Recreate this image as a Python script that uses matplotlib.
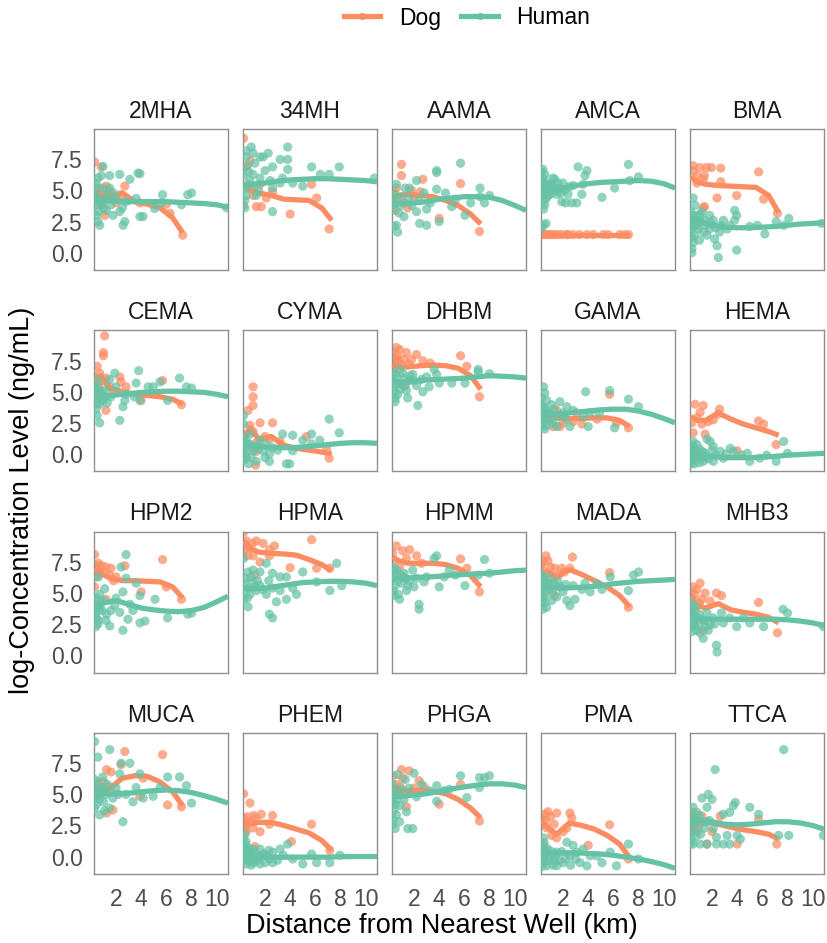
import matplotlib
matplotlib.use("Agg")
import matplotlib.pyplot as plt
from matplotlib.lines import Line2D
from matplotlib.ticker import FormatStrFormatter

plt.rcParams['font.family'] = ['Liberation Sans', 'DejaVu Sans']

compounds = ["2MHA", "34MH", "AAMA", "AMCA", "BMA",
             "CEMA", "CYMA", "DHBM", "GAMA", "HEMA",
             "HPM2", "HPMA", "HPMM", "MADA", "MHB3",
             "MUCA", "PHEM", "PHGA", "PMA", "TTCA"]

x_ticks = [2, 4, 6, 8, 10]
y_ticks = [0.0, 2.5, 5.0, 7.5]

# x positions (km) at which the smoothed curves were read
dog_curve_x = [0.3, 0.8, 1.5, 2.5, 3.5, 4.5, 5.5, 6.5, 7.3]
human_curve_x = [0.25, 1, 2, 3, 4, 5, 6, 7, 8, 9, 10, 10.9]

# ---------------- per-compound data (distance km, log concentration) ----------------
dog_2MHA = [(0.3,7.3),(0.83,6.9),(0.7,5.2),(1.23,5.35),(0.97,4.66),(1.5,4.9),(2.7,5.35),(2.4,4.66),(1.1,3.0),(2.0,4.0),(3.9,4.0),(6.3,3.16),(7.3,1.4),(6.0,3.9),(0.57,4.4),(1.8,4.5),(0.4,4.8),(0.5,4.2),(0.9,3.9),(1.3,4.6)]
hum_2MHA = [(0.97,6.94),(0.83,6.2),(1.5,6.2),(2.3,6.3),(3.75,6.4),(3.9,6.35),(3.1,5.9),(0.57,6.0),(0.44,5.2),(0.7,3.85),(0.57,2.5),(0.7,2.2),(2.7,2.5),(2.56,2.2),(3.9,2.9),(4.15,2.9),(1.76,3.0),(2.3,3.3),(1.23,3.4),(2.0,4.36),(2.8,4.1),(3.6,4.36),(5.07,3.55),(5.7,4.66),(5.6,4.0),(7.2,3.85),(7.7,4.66),(8.0,4.8),(10.8,3.6),(1.23,4.66),(1.6,3.85),(0.44,3.0),(0.97,5.2),(0.3,4.4),(1.5,5.2),(0.3,3.8),(0.5,4.5),(0.8,4.0),(1.0,3.6),(1.3,4.3),(0.4,5.6),(1.8,4.8),(0.6,3.3),(2.5,3.6)]
dogfit_2MHA = [5.0, 4.6, 4.5, 4.8, 4.1, 3.9, 3.6, 2.8, 1.6]
humfit_2MHA = [4.3, 4.2, 4.15, 4.1, 4.1, 4.1, 4.1, 4.05, 4.0, 3.95, 3.85, 3.65]

dog_34MH = [(0.3,9.2),(0.8,7.4),(0.65,5.5),(1.05,5.2),(1.6,5.5),(1.3,3.7),(1.7,3.7),(2.1,4.4),(2.6,4.9),(4.0,3.1),(5.7,5.5),(6.1,4.4),(7.1,1.9),(0.3,3.8),(1.05,4.6),(0.5,6.9)]
hum_34MH = [(0.5,8.2),(0.9,8.5),(0.5,7.7),(1.05,8.0),(1.6,7.7),(1.85,7.7),(2.25,8.0),(3.2,7.5),(3.8,7.5),(3.8,8.5),(3.8,6.7),(2.6,6.9),(5.7,6.9),(6.4,6.3),(7.1,6.3),(7.9,6.9),(5.0,5.35),(2.6,3.3),(0.4,3.6),(0.4,5.2),(0.8,5.8),(1.6,6.0),(2.4,5.8),(3.2,5.6),(4.2,5.6),(3.4,6.0),(1.3,4.6),(2.6,5.2),(10.7,6.0),(0.5,4.6),(1.05,6.3),(0.3,6.2),(0.6,7.0),(0.7,6.5),(1.2,7.2),(0.4,4.2),(1.5,5.0),(2.0,6.6),(0.9,5.4)]
dogfit_34MH = [5.4, 5.0, 4.8, 4.6, 4.3, 4.25, 4.2, 3.6, 2.6]
humfit_34MH = [5.4, 5.5, 5.6, 5.75, 5.85, 5.9, 5.95, 5.95, 5.9, 5.85, 5.8, 5.7]

dog_AAMA = [(1.0,7.1),(1.0,6.2),(2.7,5.9),(0.6,5.2),(5.7,5.55),(4.0,2.75),(7.2,1.7),(0.4,4.8),(0.6,4.3),(1.2,4.0),(1.5,3.6),(2.0,4.5),(0.5,3.4),(1.8,5.0),(2.5,4.9)]
hum_AAMA = [(0.6,2.2),(0.7,1.65),(2.45,2.35),(3.0,2.2),(1.65,5.2),(2.2,5.8),(3.8,6.6),(3.3,4.0),(3.8,6.45),(3.8,5.1),(5.7,7.2),(7.25,5.2),(7.25,4.5),(7.6,4.0),(8.0,4.6),(6.05,3.0),(4.0,2.5),(5.0,3.7),(0.3,3.5),(0.5,4.0),(0.8,3.2),(1.0,4.5),(1.3,5.2),(0.4,2.1),(1.8,3.8),(2.4,4.2),(3.0,3.5),(0.6,5.5),(1.2,2.9),(2.8,4.8),(4.5,4.8),(5.3,4.3),(6.5,4.0),(0.3,4.4),(0.9,3.8),(1.6,4.4),(2.2,3.3),(0.5,4.7)]
dogfit_AAMA = [4.5, 4.6, 4.7, 4.6, 4.5, 4.2, 3.8, 3.1, 2.3]
humfit_AAMA = [3.9, 3.95, 4.0, 4.1, 4.3, 4.4, 4.5, 4.5, 4.45, 4.2, 3.8, 3.4]

dog_AMCA = [(0.3,1.45),(0.5,1.45),(0.7,1.45),(0.9,1.45),(1.1,1.45),(1.3,1.45),(1.6,1.45),(1.9,1.45),(2.3,1.45),(2.4,1.45),(2.8,1.45),(3.3,1.45),(3.9,1.45),(4.4,1.45),(5.2,1.45),(5.6,1.45),(6.5,1.45),(6.9,1.45),(7.2,1.45)]
hum_AMCA = [(0.4,6.7),(0.55,6.3),(0.4,5.2),(0.7,4.4),(0.55,3.85),(0.65,2.35),(0.45,2.2),(1.35,5.9),(1.75,5.2),(1.5,4.7),(2.2,4.0),(2.7,4.0),(3.1,4.0),(3.2,6.9),(3.9,6.6),(3.75,6.2),(3.6,5.5),(3.5,4.7),(2.4,4.7),(5.1,4.45),(6.1,5.2),(7.2,7.1),(7.3,5.8),(8.0,6.1),(1.9,4.1),(1.0,5.5),(1.1,5.0),(0.3,5.8),(0.3,4.6),(0.8,5.0),(1.2,6.0),(2.0,5.6),(2.8,5.4),(0.5,5.5),(0.3,5.2),(0.35,4.9),(0.4,6.0),(0.5,4.2),(0.6,5.0),(0.7,5.6),(0.8,4.6),(0.9,5.3),(1.0,4.7),(1.2,5.4),(1.4,5.0),(1.6,5.6),(1.8,4.8),(2.1,5.0),(2.5,5.3),(0.3,6.5),(0.45,3.5),(0.3,2.0)]
dogfit_AMCA = [1.45, 1.45, 1.45, 1.45, 1.45, 1.45, 1.45, 1.45, 1.45]
humfit_AMCA = [4.8, 5.0, 5.2, 5.4, 5.55, 5.65, 5.7, 5.75, 5.8, 5.75, 5.55, 5.2]

dog_BMA = [(0.5,7.0),(1.05,6.85),(1.57,6.85),(1.95,6.85),(2.7,6.8),(0.8,6.2),(1.4,6.2),(1.3,5.9),(0.8,5.6),(2.7,5.7),(5.7,6.5),(3.96,4.6),(2.4,4.4),(1.4,3.7),(1.3,3.6),(6.1,4.3),(7.2,3.16),(0.5,6.6)]
hum_BMA = [(0.4,1.9),(0.5,0.8),(0.4,0.3),(0.4,0.0),(0.8,2.2),(0.8,3.0),(0.65,3.8),(1.05,3.0),(1.4,2.6),(1.3,1.65),(1.8,1.9),(2.2,1.1),(2.4,0.55),(2.5,-0.4),(3.96,0.2),(2.9,2.6),(3.4,2.2),(3.8,3.4),(3.96,3.0),(3.8,2.6),(5.0,2.1),(5.6,2.2),(6.2,1.5),(7.1,2.5),(8.1,2.75),(7.7,2.2),(10.7,2.35),(2.1,2.6),(2.6,1.65),(1.6,1.4),(1.05,2.5),(0.5,4.4),(1.8,3.0),(0.3,2.6),(0.6,1.4),(0.3,3.3),(0.35,2.0),(0.5,3.0),(0.7,2.6),(0.9,1.9),(1.2,3.3),(1.5,2.2),(1.9,2.4),(2.3,2.0),(0.4,1.2),(0.6,2.2),(1.0,1.0),(2.7,2.2),(3.2,1.9)]
dogfit_BMA = [6.1, 5.7, 5.5, 5.4, 5.35, 5.3, 5.25, 4.6, 3.2]
humfit_BMA = [2.7, 2.5, 2.2, 2.05, 2.0, 2.0, 2.05, 2.1, 2.2, 2.3, 2.35, 2.4]

dog_CEMA = [(1.1,9.5),(1.0,8.15),(1.0,7.9),(0.5,7.05),(0.7,6.5),(1.2,6.1),(2.3,6.2),(2.4,5.8),(1.2,3.5),(2.8,5.4),(4.0,4.3),(5.7,5.9),(7.2,3.96),(0.45,5.7),(1.5,5.4),(0.7,4.9),(0.3,6.2),(0.6,5.5),(0.9,5.9),(1.8,5.0)]
hum_CEMA = [(3.8,6.7),(1.9,6.5),(0.45,5.3),(0.7,2.5),(0.5,3.1),(2.3,2.7),(2.55,3.8),(2.7,4.3),(3.6,5.7),(3.9,4.3),(4.55,5.4),(4.95,5.4),(6.1,4.3),(7.05,6.1),(7.6,5.4),(8.0,5.3),(5.5,5.8),(1.2,5.2),(1.6,4.6),(2.0,5.4),(0.97,4.3),(2.8,4.8),(3.45,4.6),(0.45,4.0),(1.5,6.0),(0.3,4.7),(0.6,5.9),(0.3,5.3),(0.5,4.5),(0.7,4.0),(0.9,5.0),(1.1,4.6),(0.4,3.6),(1.3,4.1),(0.6,5.2)]
dogfit_CEMA = [5.9, 6.3, 5.3, 5.0, 4.8, 4.7, 4.6, 4.4, 4.0]
humfit_CEMA = [4.5, 4.6, 4.75, 4.85, 4.95, 5.0, 5.05, 5.05, 5.0, 4.95, 4.8, 4.6]

dog_CYMA = [(1.05,5.4),(1.05,4.6),(1.05,3.9),(0.65,3.5),(1.6,2.5),(2.6,2.5),(1.05,1.8),(1.3,0.2),(1.25,-0.9),(3.2,1.0),(5.3,1.4),(7.1,-0.35),(6.9,0.45),(0.5,1.6),(2.35,1.2),(0.3,1.0),(0.6,0.8),(0.8,2.3),(1.4,1.0),(2.0,1.4)]
hum_CYMA = [(0.3,3.1),(0.3,2.4),(0.3,1.3),(0.4,0.5),(0.5,-0.3),(1.3,-0.6),(2.35,0.0),(2.35,-0.6),(3.7,-0.8),(3.96,-0.8),(3.4,1.6),(4.2,1.5),(5.0,1.1),(5.7,1.6),(5.7,0.8),(7.1,2.8),(7.9,1.7),(6.35,1.1),(1.6,1.1),(2.1,0.8),(0.8,0.8),(1.05,0.25),(2.6,0.5),(4.2,0.25),(0.8,1.6),(1.85,0.25),(0.4,-0.1),(0.3,0.7),(0.5,1.0),(0.6,0.3),(0.9,-0.3),(1.2,0.6),(1.5,0.4),(0.3,-0.5),(0.7,-0.8),(2.0,-0.3),(3.0,0.3)]
dogfit_CYMA = [1.2, 2.1, 1.2, 1.4, 0.7, 0.45, 0.3, 0.15, 0.0]
humfit_CYMA = [0.9, 0.7, 0.55, 0.5, 0.5, 0.55, 0.65, 0.75, 0.85, 0.9, 0.9, 0.85]

dog_DHBM = [(0.6,8.56),(0.85,8.4),(1.4,8.15),(0.5,7.7),(2.2,8.0),(2.7,7.5),(1.2,5.5),(0.75,7.5),(5.7,7.9),(6.2,7.05),(7.2,4.6),(0.3,8.2),(1.0,7.2),(1.8,7.6),(0.4,6.9),(3.3,7.3),(0.35,7.4),(0.7,7.9),(1.2,7.6),(1.6,7.2),(0.5,7.1)]
hum_DHBM = [(0.5,4.2),(2.3,3.9),(0.6,5.7),(1.4,5.1),(2.7,5.0),(3.0,6.2),(0.85,6.8),(1.9,6.4),(3.6,6.8),(7.1,6.8),(7.1,6.6),(8.0,6.45),(3.8,6.4),(5.0,5.7),(6.05,5.7),(4.0,5.7),(0.3,5.9),(0.5,6.4),(1.0,5.6),(1.2,6.1),(1.6,5.9),(2.2,5.5),(2.6,6.0),(0.4,5.0),(0.7,4.8),(1.5,4.5),(3.2,5.4),(0.3,6.5),(0.4,5.4),(0.6,6.1),(0.9,5.2),(1.3,5.5),(1.7,6.3),(2.0,5.9),(0.5,4.5),(1.1,6.5)]
dogfit_DHBM = [7.2, 7.0, 7.0, 7.1, 7.15, 7.1, 6.9, 6.3, 5.2]
humfit_DHBM = [5.8, 5.8, 5.85, 5.95, 6.0, 6.05, 6.1, 6.2, 6.3, 6.25, 6.2, 6.1]

dog_GAMA = [(5.7,4.8),(7.2,2.1),(6.25,2.5),(1.2,2.2),(1.75,2.2),(1.0,2.8),(0.55,3.3),(2.0,2.5),(2.8,2.6),(1.5,3.5),(3.1,3.3),(3.5,2.4),(4.7,2.8)]
hum_GAMA = [(0.45,5.4),(0.55,4.9),(0.7,4.3),(0.45,3.8),(0.55,2.8),(0.55,2.0),(1.1,3.96),(1.75,4.2),(2.3,3.8),(2.8,3.5),(3.8,5.0),(4.15,3.3),(5.7,5.1),(6.1,2.1),(7.2,4.4),(8.0,3.8),(4.0,2.2),(2.55,2.2),(1.5,2.2),(2.0,3.3),(3.6,3.0),(4.9,3.3),(0.85,3.3),(0.3,4.5),(0.3,3.2),(1.3,3.6),(0.3,3.8),(0.4,2.6),(0.6,3.6),(0.8,2.7),(1.0,3.2),(1.2,2.5),(1.6,3.0),(2.2,2.8),(0.3,2.2),(0.7,2.3)]
dogfit_GAMA = [3.3, 3.1, 2.9, 2.85, 2.85, 2.9, 2.9, 2.7, 2.2]
humfit_GAMA = [3.2, 3.2, 3.25, 3.35, 3.45, 3.55, 3.6, 3.6, 3.45, 3.2, 2.85, 2.5]

dog_HEMA = [(0.65,4.0),(1.3,3.9),(1.05,3.35),(0.8,2.9),(0.4,2.5),(1.2,2.4),(1.7,2.6),(1.45,1.6),(0.5,1.7),(2.6,3.6),(2.5,3.2),(5.7,2.65),(6.1,2.4),(7.1,0.75),(4.0,0.25),(2.1,2.75)]
hum_HEMA = [(0.5,1.0),(0.8,0.75),(1.6,1.2),(1.85,1.0),(2.1,0.6),(0.5,0.2),(0.8,-0.1),(1.3,-0.6),(2.1,-0.6),(2.9,-0.35),(3.7,0.2),(5.0,-0.6),(5.8,-0.35),(7.1,-0.6),(7.7,1.0),(8.0,0.05),(6.35,-0.1),(4.35,-0.1),(0.4,-0.6),(1.2,0.2),(2.65,0.2),(3.45,0.45),(4.8,0.05),(0.3,0.5),(1.0,0.4),(1.5,-0.2),(0.6,-0.3),(0.3,0.1),(0.35,-0.3),(0.45,0.7),(0.55,-0.1),(0.7,0.3),(0.9,0.0),(1.1,-0.3),(1.4,0.1),(1.7,-0.4),(2.3,-0.1),(0.3,-0.8),(0.6,-0.8),(1.0,-0.7),(0.4,0.3),(2.0,0.3),(3.1,0.0)]
dogfit_HEMA = [3.0, 2.7, 2.7, 3.3, 2.8, 2.4, 2.1, 1.8, 1.5]
humfit_HEMA = [0.0, -0.1, -0.2, -0.3, -0.3, -0.3, -0.25, -0.2, -0.1, -0.05, 0.0, 0.05]

dog_HPM2 = [(0.3,8.1),(0.45,7.2),(0.85,7.2),(1.2,7.1),(1.6,7.0),(0.7,6.6),(1.5,6.45),(2.0,6.3),(2.7,7.2),(1.8,6.0),(5.7,7.7),(6.0,5.5),(7.2,4.5),(1.2,4.5),(0.3,5.5),(4.0,5.1),(0.35,6.9),(0.6,7.4),(1.0,6.7),(0.4,6.3)]
hum_HPM2 = [(2.8,8.1),(2.4,7.1),(2.8,6.2),(0.6,6.3),(1.1,5.35),(2.55,5.1),(3.6,5.8),(3.9,4.8),(5.1,4.5),(0.45,4.6),(0.7,3.7),(0.55,2.5),(1.5,2.35),(2.55,2.0),(2.95,2.9),(3.9,2.6),(4.3,2.75),(6.1,3.0),(7.7,3.3),(8.0,3.4),(1.9,4.0),(2.3,3.45),(1.25,3.3),(3.35,3.6),(0.45,3.05),(2.0,4.6),(3.1,4.1),(0.3,3.8),(0.8,4.2),(0.3,4.4),(0.35,3.3),(0.5,3.9),(0.6,2.8),(0.9,3.6),(1.0,4.4),(1.2,2.8),(1.6,3.6),(0.4,2.3),(0.7,4.9)]
dogfit_HPM2 = [7.0, 6.6, 6.2, 6.0, 6.0, 5.95, 5.9, 5.5, 4.6]
humfit_HPM2 = [3.9, 4.2, 4.4, 4.1, 3.8, 3.65, 3.55, 3.5, 3.6, 3.85, 4.3, 4.75]

dog_HPMA = [(0.3,9.9),(0.5,9.2),(0.8,8.6),(1.3,9.2),(1.85,9.0),(2.35,8.5),(2.75,8.8),(1.05,8.0),(1.6,7.5),(2.35,8.0),(5.7,9.3),(4.0,7.05),(6.1,7.0),(7.15,7.0),(1.2,6.45),(0.3,8.3),(0.4,8.9),(0.6,8.0),(1.0,9.0)]
hum_HPMA = [(0.3,7.8),(0.65,6.7),(1.05,6.85),(1.6,6.7),(2.1,7.4),(2.6,6.6),(3.2,6.3),(3.7,6.3),(5.0,6.7),(6.1,5.9),(7.15,5.2),(7.7,7.4),(8.1,5.6),(0.65,3.9),(2.35,3.3),(2.6,3.0),(2.9,4.3),(3.7,4.5),(1.3,5.2),(2.1,4.9),(0.4,5.8),(1.05,5.8),(1.6,5.6),(4.2,5.4),(4.5,4.9),(2.6,5.4),(3.2,5.2),(0.8,4.9),(0.3,5.2),(0.5,6.2),(0.7,5.4),(0.9,6.3),(1.2,5.5),(1.4,6.0),(1.8,5.3),(2.3,6.0),(0.3,4.5),(0.6,4.6)]
dogfit_HPMA = [9.2, 8.6, 8.3, 8.2, 8.15, 8.05, 7.7, 7.3, 6.8]
humfit_HPMA = [5.4, 5.35, 5.4, 5.55, 5.7, 5.85, 5.9, 5.95, 5.95, 5.9, 5.8, 5.6]

dog_HPMM = [(0.6,8.8),(1.1,8.4),(1.65,8.5),(2.2,8.0),(0.85,7.1),(1.1,6.3),(5.7,7.75),(6.2,7.0),(7.2,5.1),(0.3,8.2),(0.4,7.6),(1.4,7.8),(2.6,7.4)]
hum_HPMM = [(0.75,4.9),(0.85,4.5),(2.4,4.1),(2.4,3.7),(1.4,5.2),(0.6,6.45),(1.65,6.0),(3.6,7.8),(3.0,6.3),(1.9,6.85),(3.8,8.0),(7.6,7.7),(7.1,6.45),(6.05,5.6),(4.0,5.5),(4.4,6.3),(5.3,6.45),(8.0,6.6),(4.8,6.85),(0.3,6.2),(0.5,5.6),(1.0,5.8),(1.2,6.6),(2.0,5.5),(2.8,5.9),(0.4,7.0),(0.3,6.8),(0.35,5.2),(0.6,6.9),(0.7,6.0),(0.9,6.5),(1.3,6.2),(1.5,5.6),(0.4,4.8),(2.2,6.2)]
dogfit_HPMM = [7.9, 7.6, 7.4, 7.4, 7.4, 7.3, 7.0, 6.4, 5.5]
humfit_HPMM = [6.2, 6.2, 6.25, 6.3, 6.35, 6.45, 6.5, 6.55, 6.6, 6.7, 6.8, 6.85]

dog_MADA = [(0.65,8.0),(0.45,7.55),(1.0,7.1),(1.35,7.0),(1.9,7.0),(2.75,7.9),(2.55,7.0),(0.7,6.6),(1.65,6.45),(5.7,6.65),(7.2,3.85),(1.3,4.8),(0.55,5.8),(1.0,5.5),(0.3,7.3),(0.4,6.8),(0.8,7.6),(1.2,6.2),(2.1,6.7)]
hum_MADA = [(0.45,6.3),(0.55,5.5),(0.45,4.7),(0.7,3.85),(0.55,4.25),(1.3,5.75),(1.75,5.5),(2.0,5.1),(2.3,4.4),(2.55,4.0),(2.95,4.5),(3.5,5.3),(4.15,5.1),(4.7,5.75),(5.1,5.3),(5.75,6.3),(7.2,5.2),(7.6,6.45),(8.0,6.7),(1.5,4.7),(2.8,5.6),(3.75,5.8),(0.3,5.9),(0.3,5.0),(0.9,5.3),(1.1,4.4),(0.3,6.5),(0.35,4.4),(0.5,6.0),(0.6,4.9),(0.8,5.8),(1.0,6.2),(1.2,5.1),(1.6,5.9),(0.4,3.7),(2.2,5.7)]
dogfit_MADA = [6.6, 6.7, 6.3, 6.9, 6.5, 6.0, 5.5, 4.8, 3.9]
humfit_MADA = [5.6, 5.45, 5.4, 5.45, 5.5, 5.6, 5.75, 5.85, 5.95, 6.0, 6.05, 6.1]

dog_MHB3 = [(0.5,5.5),(1.05,5.8),(0.8,5.3),(1.45,5.0),(2.35,5.0),(2.75,4.8),(1.2,4.5),(0.5,4.5),(1.3,2.0),(5.7,4.25),(7.2,1.8),(0.8,3.96),(1.85,4.35),(0.3,5.0),(0.6,4.9),(1.0,4.2),(0.4,3.6)]
hum_MHB3 = [(0.4,3.96),(0.5,2.6),(0.8,2.0),(1.3,1.35),(1.05,1.8),(2.35,0.8),(2.4,0.25),(1.85,2.45),(2.1,3.0),(2.75,3.4),(3.4,3.0),(3.96,2.3),(5.0,2.6),(6.1,2.3),(7.65,3.7),(8.0,3.4),(10.85,2.3),(1.6,3.4),(1.2,2.85),(2.9,2.6),(4.5,3.0),(0.3,3.2),(0.3,2.2),(0.6,3.5),(0.9,3.0),(1.5,2.3),(0.3,4.3),(0.35,2.8),(0.45,3.3),(0.6,2.4),(0.7,3.9),(0.9,2.4),(1.0,3.3),(1.4,2.8),(1.7,2.0),(2.2,2.5),(0.4,1.9)]
dogfit_MHB3 = [4.7, 4.0, 3.8, 4.15, 3.65, 3.45, 3.3, 3.05, 2.6]
humfit_MHB3 = [3.0, 2.95, 2.9, 2.9, 2.9, 2.9, 2.9, 2.9, 2.85, 2.75, 2.6, 2.4]

dog_MUCA = [(2.7,8.45),(5.7,8.2),(1.25,7.0),(1.6,6.8),(2.4,7.4),(1.25,3.5),(1.75,3.75),(6.1,4.15),(7.2,4.0),(0.55,5.8),(0.97,5.3),(3.9,4.85),(4.15,6.3),(0.3,5.2),(0.4,5.5),(0.7,4.9),(1.0,6.0),(1.4,5.6)]
hum_MUCA = [(0.3,9.25),(0.55,8.0),(1.5,8.6),(0.95,6.4),(2.4,7.5),(3.1,7.5),(2.3,6.65),(3.9,6.65),(6.1,6.4),(7.05,6.4),(7.6,5.7),(8.0,4.3),(2.55,2.8),(0.7,3.35),(0.45,4.2),(1.2,5.0),(1.75,4.7),(2.8,5.0),(3.6,5.55),(4.15,4.7),(4.95,4.85),(5.5,5.55),(0.95,5.55),(0.45,5.55),(2.0,5.55),(3.35,4.4),(0.55,5.0),(1.5,3.9),(0.3,6.2),(0.35,4.7),(0.5,6.0),(0.7,4.6),(0.8,5.3),(1.0,4.4),(1.3,5.8),(1.1,3.7),(1.6,5.2),(0.3,3.9),(2.2,5.0)]
dogfit_MUCA = [5.4, 5.3, 5.5, 6.3, 6.5, 6.45, 6.0, 5.2, 4.1]
humfit_MUCA = [5.1, 5.05, 5.05, 5.1, 5.2, 5.3, 5.35, 5.3, 5.15, 4.9, 4.6, 4.3]

dog_PHEM = [(0.3,5.05),(0.8,4.3),(0.3,3.1),(0.65,2.7),(1.3,3.1),(1.7,3.4),(2.6,3.3),(1.05,2.3),(1.6,2.0),(2.35,2.6),(1.2,0.8),(4.1,1.2),(5.7,2.6),(7.15,0.5),(0.5,2.0),(0.4,2.5),(0.6,3.2),(0.9,2.8),(1.1,3.3),(0.35,2.2)]
hum_PHEM = [(0.3,1.5),(0.5,0.9),(0.8,0.35),(1.05,-0.2),(1.6,-0.6),(2.6,-0.5),(0.5,-0.6),(1.3,-0.05),(2.1,0.1),(2.6,0.35),(3.2,0.6),(3.8,1.0),(3.45,0.1),(4.2,-0.2),(5.0,-0.6),(5.7,0.2),(6.1,-0.5),(7.15,-0.5),(7.95,0.1),(1.05,0.6),(1.85,0.2),(2.35,-0.2),(0.4,1.8),(1.6,0.6),(0.3,0.3),(0.7,-0.3),(0.3,0.9),(0.3,-0.2),(0.35,0.5),(0.45,-0.3),(0.6,0.2),(0.7,0.6),(0.9,0.1),(1.1,-0.5),(1.2,0.3),(1.4,-0.3),(1.7,0.0),(2.0,-0.5),(2.3,0.5),(0.5,1.2),(0.9,-0.7),(3.0,-0.3)]
dogfit_PHEM = [2.7, 2.6, 2.75, 2.75, 2.5, 2.2, 1.9, 1.3, 0.5]
humfit_PHEM = [0.2, 0.1, 0.0, -0.05, -0.05, -0.05, -0.05, -0.05, -0.02, 0.0, 0.0, 0.0]

dog_PHGA = [(0.35,6.5),(1.0,7.0),(1.6,6.9),(0.6,5.8),(1.1,6.3),(2.4,6.1),(1.4,4.0),(1.9,5.2),(5.7,5.8),(4.0,4.2),(7.2,2.85),(0.3,5.3),(0.8,5.0),(2.8,5.6),(0.5,5.4),(0.9,5.6),(1.3,5.2),(2.0,5.5)]
hum_PHGA = [(0.5,4.2),(0.6,3.35),(0.85,2.8),(0.5,2.25),(1.5,2.25),(1.9,2.25),(1.4,3.6),(5.7,6.5),(7.2,6.35),(7.6,6.35),(8.0,6.5),(7.2,5.55),(3.8,5.7),(6.2,4.75),(3.8,4.45),(4.4,5.3),(4.8,5.4),(0.3,5.8),(0.7,6.6),(1.3,6.2),(2.0,6.7),(2.6,5.8),(3.2,5.3),(0.4,4.8),(1.0,5.4),(2.2,4.8),(0.3,4.3),(0.35,3.0),(0.45,5.4),(0.6,4.6),(0.75,5.0),(0.9,4.1),(1.2,4.6),(1.6,5.5),(0.4,3.7),(0.3,2.6)]
dogfit_PHGA = [5.4, 5.3, 5.3, 5.3, 5.25, 5.05, 4.6, 3.9, 3.1]
humfit_PHGA = [4.8, 4.85, 4.95, 5.05, 5.25, 5.45, 5.6, 5.75, 5.85, 5.85, 5.75, 5.55]

dog_PMA = [(0.55,3.4),(0.3,3.1),(1.0,3.2),(1.5,3.5),(2.55,3.5),(2.7,3.1),(5.7,2.55),(7.2,-0.2),(0.7,2.3),(1.1,1.7),(1.5,1.5),(2.3,2.3),(4.0,0.9),(0.45,0.9),(0.35,2.6),(0.6,2.9),(0.8,3.6),(1.3,2.6),(2.0,2.0)]
hum_PMA = [(0.45,1.5),(0.55,0.6),(0.45,-0.2),(0.7,-0.75),(1.5,-0.75),(2.0,-0.5),(2.55,0.05),(3.1,0.35),(3.6,0.6),(4.15,0.05),(3.9,-0.75),(5.1,-0.5),(5.75,0.35),(6.25,-0.75),(7.2,1.0),(8.0,-0.2),(1.0,0.05),(1.5,0.35),(2.3,1.15),(2.8,0.9),(1.3,-0.35),(0.7,0.35),(3.35,-0.5),(4.7,0.05),(0.3,0.8),(0.3,-0.5),(0.3,0.3),(0.35,-0.8),(0.4,0.6),(0.5,0.0),(0.6,-0.4),(0.8,0.6),(0.9,-0.3),(1.1,0.4),(1.2,-0.7),(1.4,0.0),(1.7,-0.3),(1.9,0.4),(2.2,-0.2),(2.6,-0.7),(0.5,1.1),(3.0,-0.2)]
dogfit_PMA = [2.9, 2.3, 1.8, 2.7, 2.5, 2.2, 1.7, 1.0, -0.1]
humfit_PMA = [0.3, 0.3, 0.3, 0.3, 0.25, 0.2, 0.1, -0.05, -0.2, -0.4, -0.65, -0.95]

dog_TTCA = [(0.5,3.55),(0.8,3.0),(0.65,2.6),(1.2,3.25),(1.6,2.8),(2.0,2.0),(2.65,3.25),(1.6,1.0),(4.0,1.0),(5.7,3.0),(7.15,1.0),(0.9,2.3),(0.3,3.0),(0.35,2.6),(0.55,3.1),(1.0,2.7),(0.4,2.1)]
hum_TTCA = [(7.7,8.6),(2.25,7.0),(1.2,4.7),(1.7,5.0),(2.0,4.6),(0.5,3.96),(0.8,3.55),(1.6,3.96),(2.9,3.4),(3.4,3.55),(3.7,4.1),(3.85,4.35),(5.0,3.96),(5.7,3.4),(4.0,1.7),(7.3,1.7),(8.1,1.7),(10.85,1.7),(0.5,1.0),(1.05,1.0),(1.6,1.0),(2.35,1.0),(2.9,1.0),(3.4,1.0),(3.2,1.7),(0.8,2.0),(2.1,2.25),(0.4,2.8),(1.3,2.8),(2.35,1.55),(4.25,1.4),(0.3,3.4),(0.3,2.0),(0.35,1.4),(0.45,3.0),(0.6,2.4),(0.7,1.6),(0.9,2.9),(1.1,1.8),(1.4,2.3),(1.8,2.9),(0.3,1.0),(1.0,3.3)]
dogfit_TTCA = [3.3, 3.0, 2.8, 2.6, 2.35, 2.15, 2.0, 1.8, 1.4]
humfit_TTCA = [2.8, 2.95, 2.8, 2.6, 2.55, 2.6, 2.7, 2.8, 2.8, 2.7, 2.5, 2.2]

# ---------------------------------------------------------------------------
DOG_COLOR = "#fc8d62"
HUM_COLOR = "#66c2a5"
TICK_COLOR = "#4d4d4d"

W, H = 827, 943
fig = plt.figure(figsize=(W / 100, H / 100), dpi=100)

g = globals()
for i, name in enumerate(compounds):
    r, c = divmod(i, 5)
    left = 94 + 149 * c
    top = 129 + 201.3 * r
    ax = fig.add_axes([left / W, 1 - (top + 141) / H, 134 / W, 141 / H])

    dog = g["dog_" + name]
    hum = g["hum_" + name]
    ax.scatter([p[0] for p in dog], [p[1] for p in dog], s=44, color=DOG_COLOR,
               alpha=0.72, edgecolors="none", zorder=2)
    ax.plot(dog_curve_x, g["dogfit_" + name], color=DOG_COLOR, lw=3.8,
            solid_joinstyle="round", solid_capstyle="butt", zorder=3)
    ax.scatter([p[0] for p in hum], [p[1] for p in hum], s=44, color=HUM_COLOR,
               alpha=0.72, edgecolors="none", zorder=4)
    ax.plot(human_curve_x, g["humfit_" + name], color=HUM_COLOR, lw=3.8,
            solid_joinstyle="round", solid_capstyle="butt", zorder=5)

    ax.set_xlim(0.25, 10.9)
    ax.set_ylim(-1.4, 9.95)
    ax.set_xticks(x_ticks)
    ax.set_yticks(y_ticks)
    ax.yaxis.set_major_formatter(FormatStrFormatter("%.1f"))
    ax.tick_params(axis="both", length=0, labelsize=16.5, colors=TICK_COLOR)
    ax.tick_params(axis="y", pad=8)
    ax.tick_params(axis="x", pad=10)
    if c > 0:
        ax.tick_params(labelleft=False)
    if r < 3:
        ax.tick_params(labelbottom=False)
    for sp in ax.spines.values():
        sp.set_color("#8f8f8f")
        sp.set_linewidth(1.0)
    ax.set_title(name, fontsize=16.5, pad=8, color="#1a1a1a")

handles = [Line2D([0], [0], color=DOG_COLOR, lw=3.8, marker="o", markersize=4),
           Line2D([0], [0], color=HUM_COLOR, lw=3.8, marker="o", markersize=4)]
fig.legend(handles, ["Dog", "Human"], loc="center", bbox_to_anchor=(467 / W, 1 - 18 / H),
           ncol=2, frameon=False, fontsize=16.5, handlelength=1.6, columnspacing=0.9,
           handletextpad=0.8)

fig.text(442 / W, 1 - 926 / H, "Distance from Nearest Well (km)", ha="center",
         va="center", fontsize=19.5, color="black")
fig.text(22 / W, 1 - 500 / H, "log-Concentration Level (ng/mL)", ha="center",
         va="center", rotation=90, fontsize=19.5, color="black")

fig.savefig("out.png", dpi=100)
